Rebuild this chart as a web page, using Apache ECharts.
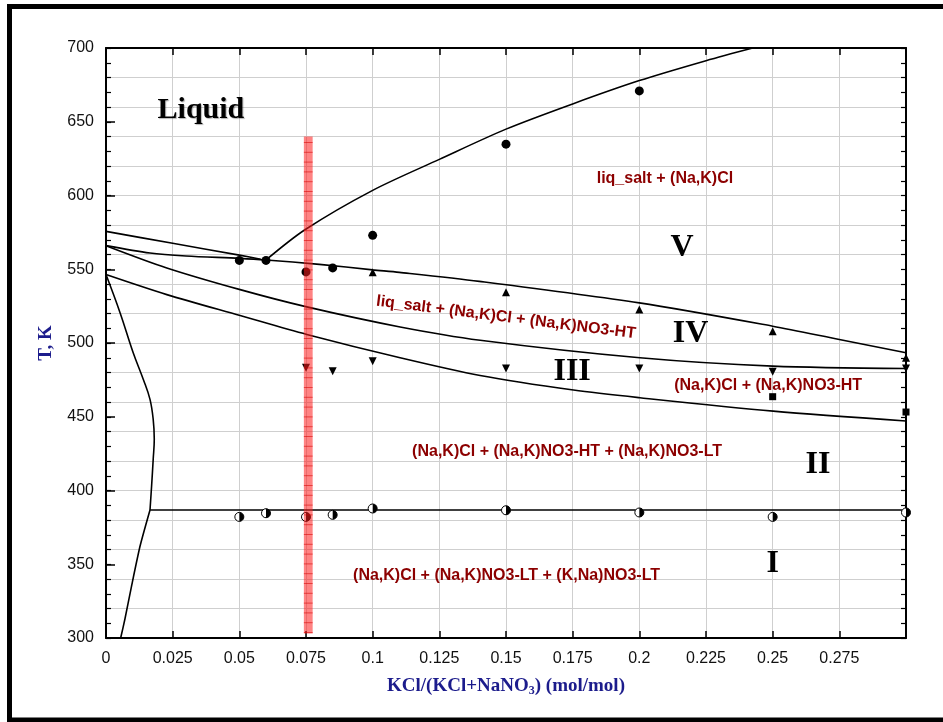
<!DOCTYPE html>
<html>
<head>
<meta charset="utf-8">
<script src="https://cdn.jsdelivr.net/npm/echarts@6/dist/echarts.min.js"></script>
<style>
  html, body { margin: 0; padding: 0; background: #fff; }
  #chart { width: 943px; height: 722px; }
</style>
</head>
<body>
<div id="chart"></div>
<script>
// Phase diagram of the KCl–NaNO3 section: T (K) vs KCl mole fraction

// Boundary curves [x, T]
const upperShort = [[0, 575.7], [0.025, 567.6], [0.05, 559.6], [0.058, 556.8]];
const upperLong = [[0, 566], [0.0165, 561], [0.03, 559], [0.05, 557.4], [0.06, 556.3], [0.08, 553.3],
  [0.1, 549.6], [0.11, 547.9], [0.14, 541.8], [0.2, 527.2], [0.25, 511.4], [0.275, 502.4], [0.3, 493.4]];
const middleCurve = [[0, 566], [0.0228, 550.9], [0.0503, 536.2], [0.0753, 524.5], [0.1103, 510.9],
  [0.1403, 501.9], [0.2002, 490], [0.25, 484.3], [0.3, 482.7]];
const lowerCurve = [[0, 546.4], [0.0228, 532.8], [0.0503, 518.6], [0.0753, 505.8], [0.1103, 490],
  [0.1403, 478], [0.1753, 468.1], [0.2002, 462.9], [0.2502, 453.8], [0.3, 447.1]];
const solvusUpper = [[0, 546.4], [0.0053, 520.4], [0.0102, 493.4], [0.014, 475.3], [0.0165, 461.8],
  [0.0177, 448.2], [0.0181, 434.7], [0.0177, 421.2], [0.0171, 403.1], [0.0165, 386.8]];
const solvusLower = [[0.0165, 386.8], [0.0128, 362.5], [0.0096, 335.4], [0.0071, 312.9], [0.0055, 300]];
const eutecticLine = [[0.0165, 386.8], [0.3, 386.8]];
const kclLiquidus = [[0.06, 556.3], [0.0746, 576.8], [0.1, 603.5], [0.125, 624.5], [0.15, 645],
  [0.175, 662.1], [0.2, 677.9], [0.225, 691.4], [0.2425, 700]];

// Measured points [x, T]
const circlePts = [[0.05, 556], [0.06, 556], [0.075, 548.2], [0.085, 550.9], [0.1, 573], [0.15, 634.8], [0.2, 670.9]];
const triUpPts = [[0.1, 547.9], [0.15, 534.4], [0.2, 522.7], [0.25, 508], [0.3, 490]];
const triDownPts = [[0.075, 483.2], [0.085, 480.9], [0.1, 487.7], [0.15, 482.7], [0.2, 482.7], [0.25, 480.5], [0.3, 482.7]];
const squarePts = [[0.25, 463.6], [0.3, 453.2]];
const halfCirclePts = [[0.05, 382.1], [0.06, 384.6], [0.075, 382.1], [0.085, 383.5], [0.1, 387.8],
  [0.15, 386.6], [0.2, 385.1], [0.25, 382.1], [0.3, 385.1]];

// Highlighted composition band: x range and T range
const bandX = [0.0742, 0.0775];
const bandT = [303, 640];

// Field labels: text, x, T, rotation (deg)
const fieldLabels = [
  ['liq_salt + (Na,K)Cl', 0.2096, 611.3, 0],
  ['liq_salt + (Na,K)Cl + (Na,K)NO3-HT', 0.15, 517.3, -7.2],
  ['(Na,K)Cl + (Na,K)NO3-HT', 0.2483, 470.8, 0],
  ['(Na,K)Cl + (Na,K)NO3-HT + (Na,K)NO3-LT', 0.1729, 426.6, 0],
  ['(Na,K)Cl + (Na,K)NO3-LT + (K,Na)NO3-LT', 0.1502, 342, 0]
];
const romanLabels = [
  ['V', 0.216, 564.4], ['IV', 0.2192, 506.6], ['III', 0.1748, 480.7], ['II', 0.267, 417.8], ['I', 0.25, 350.6]
];
const liquidLabel = ['Liquid', 0.0356, 657.8];

const xTickStep = 0.025;
const yLabelStep = 50;
const yMinorStep = 10;
const yGridStep = 20;

const chart = echarts.init(document.getElementById('chart'), null, { renderer: 'canvas' });

const lineStyle = { color: '#000', width: 1.6 };
function curve(data, smooth) {
  return {
    type: 'line', data: data, showSymbol: false, smooth: smooth, z: 3,
    lineStyle: lineStyle, silent: true, clip: true
  };
}
function points(data, symbol, size, extra) {
  return Object.assign({
    type: 'scatter', data: data, symbol: symbol, symbolSize: size, z: 4, silent: true,
    itemStyle: { color: '#000', opacity: 1 }
  }, extra || {});
}

const halfDisc = 'path://M0,0 A10,10 0 0,1 0,20 Z';
const serif = 'Liberation Serif, Times New Roman, serif';
const sans = 'Liberation Sans, Arial, sans-serif';

function textSeries(items, style) {
  return {
    type: 'scatter', z: 8, silent: true, symbolSize: 0,
    itemStyle: { opacity: 1 },
    data: items.map(l => ({
      value: [l[1], l[2]],
      label: Object.assign({ show: true, position: 'inside', formatter: l[0], rotate: l[3] || 0 }, style)
    }))
  };
}

const option = {
  animation: false,
  backgroundColor: '#fff',
  grid: { left: 106, right: 37, top: 48, bottom: 84 },
  xAxis: [
    {
      type: 'value', position: 'bottom', min: 0, max: 0.3, interval: xTickStep,
      axisLine: { show: true, lineStyle: { color: '#000', width: 2 } },
      axisTick: { show: true, inside: true, length: 7, lineStyle: { color: '#000', width: 1.5 } },
      axisLabel: {
        margin: 13, color: '#111', fontFamily: sans, fontSize: 16,
        formatter: v => (v >= 0.2999 ? '' : String(+v.toFixed(3)))
      },
      splitLine: { show: true, lineStyle: { color: '#cfcfcf', width: 1 } },
      name: '{a|KCl/(KCl+NaNO}{s|3}{a|) (mol/mol)}',
      nameLocation: 'middle', nameGap: 37,
      nameTextStyle: {
        rich: {
          a: { fontFamily: serif, fontWeight: 'bold', fontSize: 19, color: '#1c1c8c', lineHeight: 22 },
          s: { fontFamily: serif, fontWeight: 'bold', fontSize: 12, color: '#1c1c8c', lineHeight: 12, verticalAlign: 'bottom', padding: [6, 0, 0, 0] }
        }
      }
    },
    {
      type: 'value', position: 'top', min: 0, max: 0.3, interval: xTickStep,
      axisLine: { show: true, lineStyle: { color: '#000', width: 2 } },
      axisTick: { show: true, inside: true, length: 7, lineStyle: { color: '#000', width: 1.5 } },
      axisLabel: { show: false }, splitLine: { show: false }
    }
  ],
  yAxis: [
    {
      type: 'value', position: 'left', min: 300, max: 700, interval: yLabelStep,
      axisLine: { show: true, lineStyle: { color: '#000', width: 2 } },
      axisTick: { show: true, inside: true, length: 9, lineStyle: { color: '#000', width: 1.5 } },
      axisLabel: { margin: 12, color: '#111', fontFamily: sans, fontSize: 16 },
      splitLine: { show: false },
      name: 'T, K', nameLocation: 'middle', nameGap: 50,
      nameTextStyle: { fontFamily: serif, fontWeight: 'bold', fontSize: 19, color: '#1c1c8c' }
    },
    {
      type: 'value', position: 'left', min: 300, max: 700, interval: yMinorStep,
      axisLine: { show: false },
      axisTick: { show: true, inside: true, length: 5, lineStyle: { color: '#000', width: 1.2 } },
      axisLabel: { show: false }, splitLine: { show: false }
    },
    {
      type: 'value', position: 'left', min: 300, max: 700, interval: yGridStep,
      axisLine: { show: false }, axisTick: { show: false }, axisLabel: { show: false },
      splitLine: { show: true, lineStyle: { color: '#cfcfcf', width: 1 } }
    },
    {
      type: 'value', position: 'right', min: 300, max: 700, interval: yMinorStep,
      axisLine: { show: true, lineStyle: { color: '#000', width: 2 } },
      axisTick: { show: true, inside: true, length: 5, lineStyle: { color: '#000', width: 1.2 } },
      axisLabel: { show: false }, splitLine: { show: false }
    }
  ],
  graphic: [
    {
      type: 'rect', z: 100, silent: true,
      shape: { x: 9.5, y: 6.5, width: 937, height: 713.5 },
      style: { fill: 'none', stroke: '#000', lineWidth: 5 }
    }
  ],
  series: [
    curve(upperShort, 0.2),
    curve(upperLong, 0.3),
    curve(middleCurve, 0.3),
    curve(lowerCurve, 0.3),
    curve(solvusUpper, 0.4),
    curve(solvusLower, 0.2),
    curve(eutecticLine, false),
    curve(kclLiquidus, 0.3),

    points(circlePts, 'circle', 9),
    points(triUpPts, 'triangle', 8),
    points(triDownPts, 'triangle', 8, { symbolRotate: 180 }),
    points(squarePts, 'rect', 7),
    points(halfCirclePts, 'circle', 9, { itemStyle: { color: '#fff', borderColor: '#000', borderWidth: 1, opacity: 1 } }),
    points(halfCirclePts, halfDisc, [4.5, 9], { symbolOffset: [2.25, 0], z: 5 }),

    {
      type: 'custom', z: 6, silent: true,
      data: [[bandX[0], bandT[0], bandX[1], bandT[1]]],
      encode: { x: [0, 2], y: [1, 3] },
      renderItem: function (params, api) {
        const a = api.coord([api.value(0), api.value(3)]);
        const b = api.coord([api.value(2), api.value(1)]);
        const children = [{
          type: 'rect',
          shape: { x: a[0], y: a[1], width: b[0] - a[0], height: b[1] - a[1] },
          style: { fill: 'rgba(255,30,30,0.55)' }
        }];
        for (let y = a[1] + 6; y < b[1]; y += 9.8) {
          children.push({
            type: 'line',
            shape: { x1: a[0], y1: y, x2: b[0], y2: y },
            style: { stroke: 'rgba(215,0,0,0.55)', lineWidth: 1 }
          });
        }
        return { type: 'group', children: children };
      }
    },

    textSeries(fieldLabels, { color: '#8c0000', fontFamily: sans, fontWeight: 'bold', fontSize: 16 }),
    textSeries(romanLabels, { color: '#000', fontFamily: serif, fontWeight: 'bold', fontSize: 32 }),
    textSeries([liquidLabel], {
      color: '#000', fontFamily: serif, fontWeight: 'bold', fontSize: 30,
      textShadowColor: 'rgba(0,0,0,0.3)', textShadowOffsetX: 1, textShadowOffsetY: 1, textShadowBlur: 1
    })
  ]
};

chart.setOption(option);
</script>
</body>
</html>
